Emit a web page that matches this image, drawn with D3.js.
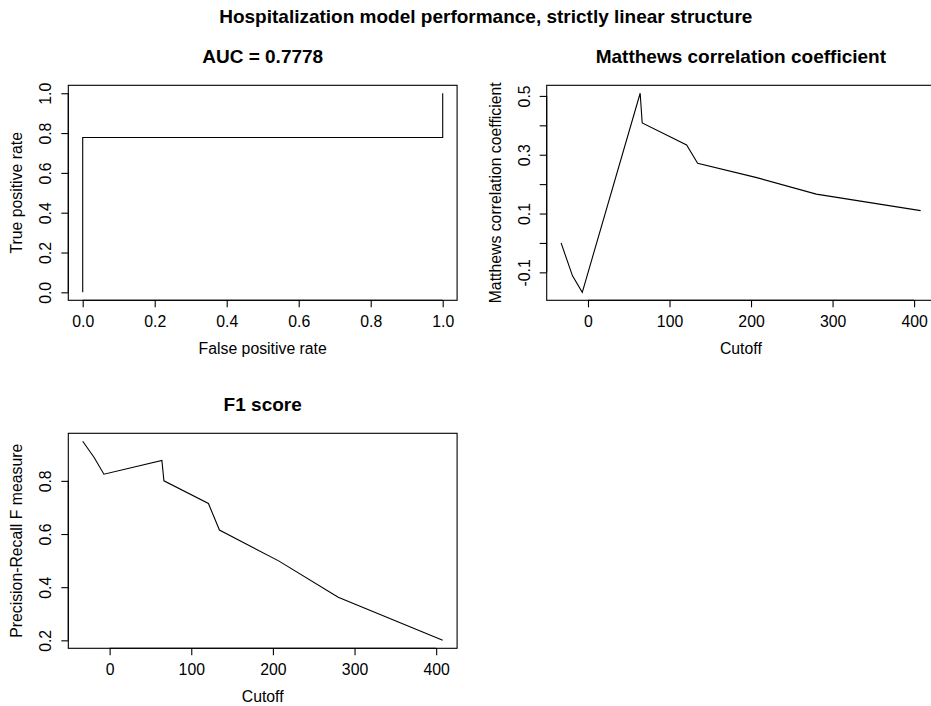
<!DOCTYPE html>
<html>
<head>
<meta charset="utf-8">
<script src="https://cdn.jsdelivr.net/npm/d3@7"></script>
<style>
    body { margin: 0; background: #fff; }
    svg text { font-family: "Liberation Sans", Arial, Helvetica, sans-serif; fill: #000; }
</style>
</head>
<body>
<svg id="chart" width="931" height="706"></svg>
<script>
// ROC curve points
const rocFpr = [0, 0, 1, 1];
const rocTpr = [0, 0.7778, 0.7778, 1];

// cutoffs shared by the MCC and F1 curves
const cutoffs = [-33, -19, -7, 64, 66.5, 121, 134.5, 207, 280, 408];
const mccValues = [0.0, -0.112, -0.168, 0.509, 0.408, 0.333, 0.271, 0.222, 0.166, 0.110];
const f1Values = [0.949, 0.888, 0.825, 0.877, 0.800, 0.715, 0.615, 0.499, 0.362, 0.200];

// tick labels
const rateTicks = [0, 0.2, 0.4, 0.6, 0.8, 1.0];
const cutoffTicks = [0, 100, 200, 300, 400];
const mccTicks = [-0.1, 0, 0.1, 0.2, 0.3, 0.4, 0.5];
const mccTickLabels = [-0.1, 0.1, 0.3, 0.5];
const f1Ticks = [0.2, 0.4, 0.6, 0.8];

const mainTitle = 'Hospitalization model performance, strictly linear structure';

const svg = d3.select('#chart');
const labelSize = '15.8px';

// R style axis padding: 4% on each side of the data range
function padExtent(values) {
    const [lo, hi] = d3.extent(values);
    const pad = (hi - lo) * 0.04;
    return [lo - pad, hi + pad];
}

function drawPanel(opts) {
    const { left, top, width, height } = opts;
    const x = d3.scaleLinear().domain(padExtent(opts.xs)).range([left, left + width]);
    const y = d3.scaleLinear().domain(padExtent(opts.ys)).range([top + height, top]);
    const g = svg.append('g');

    // title
    g.append('text')
        .attr('x', left + width / 2)
        .attr('y', top - 22.5)
        .attr('text-anchor', 'middle')
        .style('font-size', '19px')
        .style('font-weight', 'bold')
        .text(opts.title);

    // the line
    const pts = opts.xs.map((v, i) => [v, opts.ys[i]]);
    g.append('path')
        .datum(pts)
        .attr('d', d3.line().x(d => x(d[0])).y(d => y(d[1])))
        .attr('fill', 'none')
        .attr('stroke', '#000')
        .attr('stroke-width', 1.1);

    // box
    g.append('rect')
        .attr('x', left).attr('y', top)
        .attr('width', width).attr('height', height)
        .attr('fill', 'none')
        .attr('stroke', '#000')
        .attr('stroke-width', 1.1);

    // x axis
    const xAxis = g.append('g')
        .attr('transform', `translate(0,${top + height})`)
        .call(d3.axisBottom(x).tickValues(opts.xTicks).tickSize(7).tickFormat(opts.xFormat));
    xAxis.select('.domain')
        .attr('d', `M${x(opts.xTicks[0])},0H${x(opts.xTicks[opts.xTicks.length - 1])}`);
    xAxis.selectAll('text')
        .attr('y', 26.7).attr('dy', null)
        .style('font-size', labelSize)
        .style('font-family', '"Liberation Sans", Arial, Helvetica, sans-serif');

    // y axis, labels rotated like R's default las = 0
    const yAxis = g.append('g')
        .attr('transform', `translate(${left},0)`)
        .call(d3.axisLeft(y).tickValues(opts.yTicks).tickSize(7)
            .tickFormat(d => opts.yLabels.some(v => Math.abs(v - d) < 1e-9) ? opts.yFormat(d) : ''));
    yAxis.select('.domain')
        .attr('d', `M0,${y(opts.yTicks[0])}V${y(opts.yTicks[opts.yTicks.length - 1])}`);
    yAxis.selectAll('text')
        .attr('x', null).attr('dy', null)
        .attr('text-anchor', 'middle')
        .attr('transform', 'translate(-17,0) rotate(-90)')
        .style('font-size', labelSize)
        .style('font-family', '"Liberation Sans", Arial, Helvetica, sans-serif');
    yAxis.selectAll('path, line').attr('stroke', '#000').attr('stroke-width', 1.1);
    xAxis.selectAll('path, line').attr('stroke', '#000').attr('stroke-width', 1.1);

    // axis titles
    g.append('text')
        .attr('x', left + width / 2)
        .attr('y', top + height + 53.7)
        .attr('text-anchor', 'middle')
        .style('font-size', labelSize)
        .text(opts.xTitle);
    g.append('text')
        .attr('transform', `translate(${left - 46},${top + height / 2}) rotate(-90)`)
        .attr('text-anchor', 'middle')
        .style('font-size', labelSize)
        .text(opts.yTitle);
}

svg.append('text')
    .attr('x', 485.8)
    .attr('y', 23.3)
    .attr('text-anchor', 'middle')
    .style('font-size', '19px')
    .style('font-weight', 'bold')
    .text(mainTitle);

drawPanel({
    left: 68.3, top: 85.3, width: 388.8, height: 215,
    xs: rocFpr, ys: rocTpr,
    xTicks: rateTicks, yTicks: rateTicks, yLabels: rateTicks,
    xFormat: d3.format('.1f'), yFormat: d3.format('.1f'),
    title: 'AUC = 0.7778', xTitle: 'False positive rate', yTitle: 'True positive rate'
});

drawPanel({
    left: 546.7, top: 85.3, width: 388.3, height: 215,
    xs: cutoffs, ys: mccValues,
    xTicks: cutoffTicks, yTicks: mccTicks, yLabels: mccTickLabels,
    xFormat: d3.format('d'), yFormat: d => d3.format('.1f')(d).replace('−', '-'),
    title: 'Matthews correlation coefficient', xTitle: 'Cutoff', yTitle: 'Matthews correlation coefficient'
});

drawPanel({
    left: 68.3, top: 433.3, width: 388.8, height: 215,
    xs: cutoffs, ys: f1Values,
    xTicks: cutoffTicks, yTicks: f1Ticks, yLabels: f1Ticks,
    xFormat: d3.format('d'), yFormat: d3.format('.1f'),
    title: 'F1 score', xTitle: 'Cutoff', yTitle: 'Precision-Recall F measure'
});
</script>
</body>
</html>
